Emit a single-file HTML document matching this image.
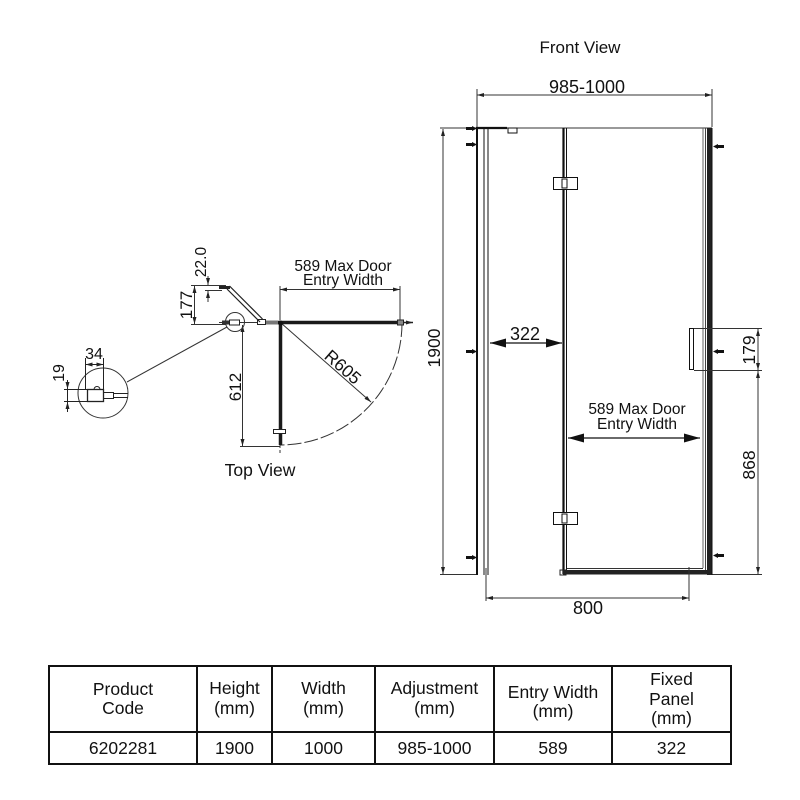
<!DOCTYPE html>
<html><head><meta charset="utf-8"><style>
html,body{margin:0;padding:0;background:#fff;}
svg{display:block;}
text{font-family:"Liberation Sans",Arial,sans-serif;fill:#111;}
</style></head><body>
<svg width="800" height="800" viewBox="0 0 800 800" xmlns="http://www.w3.org/2000/svg">
<defs>
<marker id="s" viewBox="0 0 7 4" refX="7" refY="2" markerWidth="7" markerHeight="4" markerUnits="userSpaceOnUse" orient="auto-start-reverse"><path d="M0,0 L7,2 L0,4 z" fill="#222"/></marker>
<marker id="b" viewBox="0 0 16 9" refX="16" refY="4.5" markerWidth="16" markerHeight="9" markerUnits="userSpaceOnUse" orient="auto-start-reverse"><path d="M0,0 L16,4.5 L0,9 z" fill="#111"/></marker>
</defs>

<!-- ================= FRONT VIEW ================= -->
<text x="580" y="53" font-size="17" text-anchor="middle">Front View</text>
<text x="587" y="93" font-size="18" text-anchor="middle">985-1000</text>
<g stroke="#333" stroke-width="1" fill="none">
  <line x1="477" y1="89" x2="477" y2="127"/>
  <line x1="712" y1="89" x2="712" y2="127"/>
  <line x1="477" y1="95" x2="712" y2="95" marker-start="url(#s)" marker-end="url(#s)"/>
  <!-- top/bottom extension lines -->
  <line x1="440" y1="128" x2="712" y2="128"/>
  <line x1="440" y1="574.5" x2="477" y2="574.5"/>
  <line x1="712" y1="574.5" x2="762" y2="574.5"/>
  <!-- 1900 -->
  <line x1="443" y1="129" x2="443" y2="574" marker-start="url(#s)" marker-end="url(#s)"/>
</g>
<text transform="translate(440,348) rotate(-90)" font-size="17.5" text-anchor="middle">1900</text>

<!-- left frame -->
<g stroke="#111" fill="none">
  <line x1="477" y1="127" x2="477" y2="575" stroke-width="2"/>
  <line x1="484" y1="128" x2="484" y2="575" stroke-width="1"/>
  <line x1="488" y1="128" x2="488" y2="575" stroke-width="1"/>
  <line x1="476" y1="128" x2="507" y2="128" stroke-width="2.2"/>
  <rect x="508" y="128" width="9" height="5" stroke-width="1" fill="#fff"/>
</g>
<!-- door hinge side -->
<g stroke="#111" fill="none">
  <line x1="563.5" y1="128" x2="563.5" y2="574" stroke-width="2.2"/>
  <line x1="566.5" y1="128" x2="566.5" y2="574" stroke-width="1"/>
  <rect x="553.5" y="177.5" width="24" height="12" stroke-width="1" fill="#fff"/>
  <rect x="562" y="179" width="5" height="9" stroke-width="1" fill="#fff"/>
  <rect x="553.5" y="512.5" width="24" height="12" stroke-width="1" fill="#fff"/>
  <rect x="562" y="514" width="5" height="9" stroke-width="1" fill="#fff"/>
</g>
<!-- right frame -->
<g fill="none">
  <line x1="703" y1="128" x2="703" y2="568" stroke="#666" stroke-width="1"/>
  <line x1="705.5" y1="128" x2="705.5" y2="574" stroke="#444" stroke-width="1"/>
  <rect x="707" y="128" width="4.5" height="447" fill="#222"/>
  <line x1="712" y1="128" x2="712" y2="575" stroke="#111" stroke-width="1"/>
</g>
<!-- door bottom -->
<g>
  <line x1="567" y1="568.5" x2="703" y2="568.5" stroke="#333" stroke-width="1"/>
  <rect x="563" y="570" width="148" height="4.5" fill="#222"/>
  <rect x="560" y="570" width="6" height="5" fill="none" stroke="#222" stroke-width="1"/>
</g>
<!-- handle -->
<rect x="689.5" y="328.5" width="4" height="41" fill="#fff" stroke="#111" stroke-width="1"/>
<!-- 179 / 868 -->
<g stroke="#333" stroke-width="1" fill="none">
  <line x1="694" y1="328.5" x2="762" y2="328.5"/>
  <line x1="694" y1="370.5" x2="762" y2="370.5"/>
  <line x1="758" y1="329" x2="758" y2="370" marker-start="url(#s)" marker-end="url(#s)"/>
  <line x1="758" y1="371" x2="758" y2="574" marker-start="url(#s)" marker-end="url(#s)"/>
</g>
<text transform="translate(755,350) rotate(-90)" font-size="17.5" text-anchor="middle">179</text>
<text transform="translate(755,465) rotate(-90)" font-size="17.5" text-anchor="middle">868</text>
<!-- 322 -->
<line x1="490" y1="343" x2="562" y2="343" stroke="#111" stroke-width="1.3" marker-start="url(#b)" marker-end="url(#b)"/>
<text x="525" y="340" font-size="18" text-anchor="middle">322</text>
<!-- 589 front -->
<text x="637" y="414" font-size="15.5" text-anchor="middle">589 Max Door</text>
<text x="637" y="429" font-size="15.5" text-anchor="middle">Entry Width</text>
<line x1="568" y1="438" x2="700" y2="438" stroke="#111" stroke-width="1.3" marker-start="url(#b)" marker-end="url(#b)"/>
<!-- 800 -->
<g stroke="#333" stroke-width="1" fill="none">
  <line x1="486" y1="568" x2="486" y2="601"/>
  <line x1="689" y1="567" x2="689" y2="601"/>
  <line x1="486" y1="598" x2="689" y2="598" marker-start="url(#s)" marker-end="url(#s)"/>
</g>
<text x="588" y="614" font-size="18" text-anchor="middle">800</text>
<!-- frame markers -->
<g fill="#111">
  <rect x="466" y="127" width="6" height="3"/><path d="M472,126 L477,128.5 L472,131 z"/>
  <rect x="466" y="143" width="6" height="3"/><path d="M472,142 L477,144.5 L472,147 z"/>
  <rect x="466" y="350" width="6" height="3"/><path d="M472,349 L477,351.5 L472,354 z"/>
  <rect x="466" y="556" width="6" height="3"/><path d="M472,555 L477,557.5 L472,560 z"/>
  <rect x="718" y="145" width="6" height="3"/><path d="M718,144 L713,146.5 L718,149 z"/>
  <rect x="718" y="350" width="6" height="3"/><path d="M718,349 L713,351.5 L718,354 z"/>
  <rect x="718" y="554" width="6" height="3"/><path d="M718,553 L713,555.5 L718,558 z"/>
</g>

<!-- ================= TOP VIEW ================= -->
<!-- 589 top -->
<text x="343" y="271" font-size="15.5" text-anchor="middle">589 Max Door</text>
<text x="343" y="285" font-size="15.5" text-anchor="middle">Entry Width</text>
<g stroke="#333" stroke-width="1" fill="none">
  <line x1="280" y1="286" x2="280" y2="320"/>
  <line x1="400" y1="286" x2="400" y2="320"/>
  <line x1="280" y1="289.5" x2="400" y2="289.5" marker-start="url(#s)" marker-end="url(#s)"/>
  <!-- 177 -->
  <line x1="191" y1="285.5" x2="226" y2="285.5"/>
  <line x1="191" y1="324.5" x2="226" y2="324.5"/>
  <line x1="194.5" y1="286" x2="194.5" y2="324" marker-start="url(#s)" marker-end="url(#s)"/>
  <!-- 22.0 -->
  <line x1="205" y1="290.5" x2="222" y2="290.5"/>
  <line x1="208" y1="276" x2="208" y2="285" marker-end="url(#s)"/>
  <line x1="208" y1="302" x2="208" y2="291" marker-end="url(#s)"/>
  <!-- 612 -->
  <line x1="240" y1="446.5" x2="280" y2="446.5"/>
  <line x1="242.5" y1="325" x2="242.5" y2="446" marker-start="url(#s)" marker-end="url(#s)"/>
  <!-- leader -->
  <line x1="227" y1="327" x2="127" y2="382"/>
  <!-- R605 -->
  <line x1="281" y1="323" x2="371" y2="402" marker-end="url(#s)"/>
  <!-- arc -->
  <path d="M402,323 A122,122 0 0 1 280,445" stroke-dasharray="14 3"/>
  <line x1="280" y1="445" x2="280" y2="453" stroke-dasharray="3 2"/>
  <!-- small circle -->
  <circle cx="235" cy="322" r="9.5"/>
  <!-- detail circle -->
  <circle cx="103" cy="393" r="25"/>
</g>
<text transform="translate(192,305) rotate(-90)" font-size="17" text-anchor="middle">177</text>
<text transform="translate(206,262) rotate(-90)" font-size="15.5" text-anchor="middle">22.0</text>
<text transform="translate(241,387) rotate(-90)" font-size="17" text-anchor="middle">612</text>
<text transform="translate(342,368) rotate(41.5)" font-size="17.5" text-anchor="middle" dominant-baseline="middle">R605</text>
<text x="260" y="476" font-size="17.5" text-anchor="middle">Top View</text>

<!-- top view panels -->
<g>
  <line x1="219" y1="322.5" x2="258" y2="322.5" stroke="#333" stroke-width="1"/>
  <rect x="222" y="320.5" width="7" height="4" fill="#333"/>
  <rect x="229.5" y="320" width="10" height="5" fill="#fff" stroke="#222" stroke-width="1"/>
  <rect x="257.5" y="319.5" width="8" height="5" fill="#fff" stroke="#222" stroke-width="1"/>
  <rect x="266" y="320.5" width="12" height="4" fill="#777"/>
  <line x1="278" y1="322.5" x2="398" y2="322.5" stroke="#1a1a1a" stroke-width="3.5"/>
  <rect x="397.5" y="320" width="6" height="5" fill="#888" stroke="#222" stroke-width="1"/>
  <line x1="403" y1="322.5" x2="413" y2="322.5" stroke="#222" stroke-width="1.5" marker-end="url(#s)"/>
  <line x1="280.5" y1="321" x2="280.5" y2="445" stroke="#1a1a1a" stroke-width="3.5"/>
  <circle cx="280.5" cy="323" r="2.5" fill="#111"/>
  <rect x="273.5" y="429.5" width="12" height="4" fill="#fff" stroke="#222" stroke-width="1"/>
  <!-- diagonal -->
  <line x1="229.5" y1="286" x2="262.5" y2="319" stroke="#222" stroke-width="1.2"/>
  <line x1="227" y1="289" x2="260" y2="322" stroke="#222" stroke-width="1.2"/>
  <line x1="219" y1="287.5" x2="230" y2="287.5" stroke="#222" stroke-width="3"/>
</g>

<!-- detail -->
<g stroke="#222" stroke-width="1" fill="none">
  <line x1="64" y1="389.5" x2="87" y2="389.5"/>
  <line x1="64" y1="401.5" x2="87" y2="401.5"/>
  <line x1="67.5" y1="380" x2="67.5" y2="389" marker-end="url(#s)"/>
  <line x1="67.5" y1="412" x2="67.5" y2="402" marker-end="url(#s)"/>
  <line x1="67.5" y1="389" x2="67.5" y2="402"/>
  <line x1="85.5" y1="358" x2="85.5" y2="389"/>
  <line x1="103.5" y1="358" x2="103.5" y2="392"/>
  <line x1="85.5" y1="364.5" x2="103.5" y2="364.5" marker-start="url(#s)" marker-end="url(#s)"/>
  <rect x="87.5" y="389.5" width="16" height="12" stroke-width="1.3"/>
  <rect x="103.5" y="392.5" width="10" height="6"/>
  <line x1="113" y1="393.5" x2="128" y2="393.5"/>
  <line x1="113" y1="397.5" x2="128" y2="397.5"/>
  <path d="M94,389.5 A3,3 0 0 1 100,389.5"/>
</g>
<text x="94" y="359" font-size="16" text-anchor="middle">34</text>
<text transform="translate(64,373) rotate(-90)" font-size="16" text-anchor="middle">19</text>

<!-- ================= TABLE ================= -->
<g stroke="#111" stroke-width="2" fill="none">
  <rect x="49" y="666" width="682" height="98"/>
  <line x1="49" y1="732" x2="731" y2="732"/>
  <line x1="197" y1="666" x2="197" y2="764"/>
  <line x1="272" y1="666" x2="272" y2="764"/>
  <line x1="375" y1="666" x2="375" y2="764"/>
  <line x1="494" y1="666" x2="494" y2="764"/>
  <line x1="612" y1="666" x2="612" y2="764"/>
</g>
<g font-size="17.5" text-anchor="middle">
  <text x="123" y="695">Product</text>
  <text x="123" y="714">Code</text>
  <text x="234.5" y="694">Height</text>
  <text x="234.5" y="714">(mm)</text>
  <text x="323.5" y="694">Width</text>
  <text x="323.5" y="714">(mm)</text>
  <text x="434.5" y="694">Adjustment</text>
  <text x="434.5" y="714">(mm)</text>
  <text x="553" y="698">Entry Width</text>
  <text x="553" y="717">(mm)</text>
  <text x="671.5" y="685">Fixed</text>
  <text x="671.5" y="705">Panel</text>
  <text x="671.5" y="724">(mm)</text>
  <text x="123" y="754">6202281</text>
  <text x="234.5" y="754">1900</text>
  <text x="323.5" y="754">1000</text>
  <text x="434.5" y="754">985-1000</text>
  <text x="553" y="754">589</text>
  <text x="671.5" y="754">322</text>
</g>
</svg>
</body></html>
